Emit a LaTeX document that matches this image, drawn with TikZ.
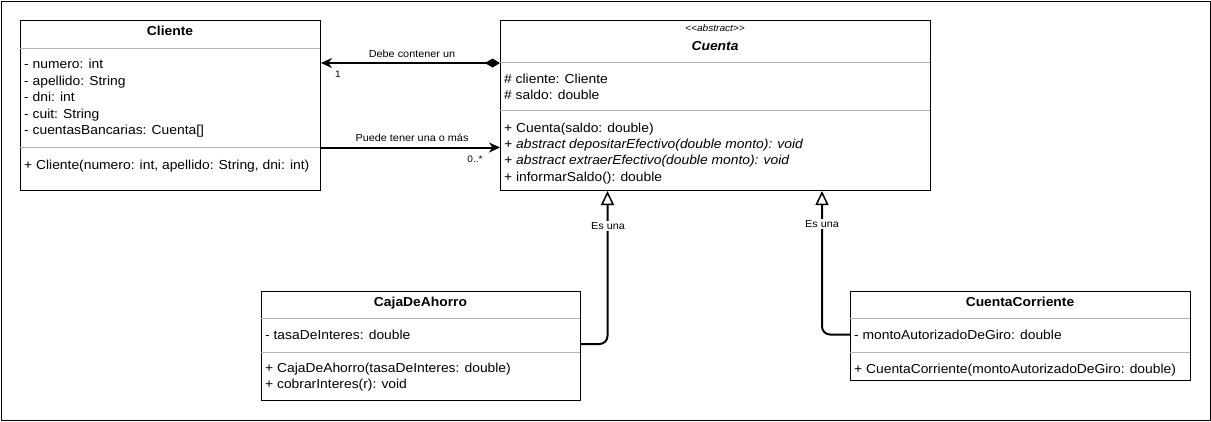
\documentclass[tikz,border=0pt]{standalone}
\usepackage{fontspec}
\setmainfont{Liberation Sans}[FakeStretch=1.065]
\usetikzlibrary{arrows.meta}
\begin{document}
\begin{tikzpicture}[x=1pt,y=-1pt,
  box/.style={draw, line width=1pt, anchor=north west, inner sep=0pt},
  sepline/.style={draw=black!30, line width=1pt},
  title/.style={font=\fontsize{13}{15}\selectfont\bfseries, inner sep=0pt, anchor=base},
  attr/.style={font=\fontsize{13}{15}\selectfont, anchor=base west, inner sep=0pt},
  lbl/.style={font=\fontsize{10.2}{12}\selectfont, inner sep=1pt},
  mult/.style={font=\fontsize{9.5}{11}\selectfont, inner sep=0pt},
  conn/.style={line width=2pt},
  gen/.style={conn, rounded corners=8pt, -{Triangle[open, length=14pt, width=13pt, line width=1.5pt, fill=white]}},
]
\useasboundingbox (0,0) rectangle (1211,421);
\node[draw, line width=1pt, anchor=north west, minimum width=1209pt, minimum height=419pt, inner sep=0pt] (frame) at (1,1) {};

% Cliente
\node[box, minimum width=300pt, minimum height=170pt] (cliente) at (20,20) {};
\path[sepline] (20,48) -- (320,48) (20,147) -- (320,147);
\node[title] (clT) at (170,35.5) {Cliente};
\node[attr] (cl1) at (24,68.5) {- numero: int};
\node[attr] (cl2) at (24,85) {- apellido: String};
\node[attr] (cl3) at (24,101.5) {- dni: int};
\node[attr] (cl4) at (24,118) {- cuit: String};
\node[attr] (cl5) at (24,134.5) {- cuentasBancarias: Cuenta[]};
\node[attr] (cl6) at (24,169.5) {+ Cliente(numero: int, apellido: String, dni: int)};

% Cuenta
\node[box, minimum width=430pt, minimum height=170pt] (cuenta) at (500,20) {};
\path[sepline] (500,62) -- (930,62) (500,110) -- (930,110);
\node[font=\fontsize{9.5}{10}\selectfont\itshape, inner sep=0pt, anchor=base] (cuS) at (715,31) {{<}{<}abstract{>}{>}};
\node[title, font=\fontsize{13}{15}\selectfont\bfseries\itshape] (cuT) at (715,50.5) {Cuenta};
\node[attr] (cu1) at (504,83.5) {\# cliente: Cliente};
\node[attr] (cu2) at (504,99.5) {\# saldo: double};
\node[attr] (cu3) at (504,132.5) {+ Cuenta(saldo: double)};
\node[attr] (cu4) at (504,148.5) {\itshape + abstract depositarEfectivo(double monto): void};
\node[attr] (cu5) at (504,164.5) {\itshape + abstract extraerEfectivo(double monto): void};
\node[attr] (cu6) at (504,181.5) {+ informarSaldo(): double};

% CajaDeAhorro
\node[box, minimum width=319pt, minimum height=109pt] (caja) at (261,291) {};
\path[sepline] (261,318) -- (580,318) (261,352) -- (580,352);
\node[title] (caT) at (420.5,306.5) {CajaDeAhorro};
\node[attr] (ca1) at (265,339.5) {- tasaDeInteres: double};
\node[attr] (ca2) at (265,372.5) {+ CajaDeAhorro(tasaDeInteres: double)};
\node[attr] (ca3) at (265,388.5) {+ cobrarInteres(r): void};

% CuentaCorriente
\node[box, minimum width=340pt, minimum height=89pt] (cc) at (850,291) {};
\path[sepline] (850,318) -- (1190,318) (850,352) -- (1190,352);
\node[title] (ccT) at (1020,306.5) {CuentaCorriente};
\node[attr] (cc1) at (854,339.5) {- montoAutorizadoDeGiro: double};
\node[attr] (cc2) at (854,373.5) {+ CuentaCorriente(montoAutorizadoDeGiro: double)};

% Associations
\draw[conn, {Stealth[length=11pt, width=10pt]}-{Diamond[length=15pt, width=9pt]}]
  ([yshift=-43pt]cliente.north east) -- ([yshift=-43pt]cuenta.north west);
\node[lbl] (l1) at (412,54) {Debe contener un};
\node[mult] (m1) at (338,74) {1};

\draw[conn, -{Stealth[length=11pt, width=10pt]}]
  ([yshift=-127.5pt]cliente.north east) -- ([yshift=-127.5pt]cuenta.north west);
\node[lbl] (l2) at (412,138) {Puede tener una o más};
\node[mult] (m2) at (475,159) {0..*};

% Generalizations
\draw[gen] ([yshift=-53pt]caja.north east) -| ([xshift=107.5pt]cuenta.south west);
\node[lbl, fill=white] (g1) at (608,226) {Es una};
\draw[gen] ([yshift=-43.5pt]cc.north west) -| ([xshift=322pt]cuenta.south west);
\node[lbl, fill=white] (g2) at (822,224) {Es una};
\end{tikzpicture}
\end{document}
